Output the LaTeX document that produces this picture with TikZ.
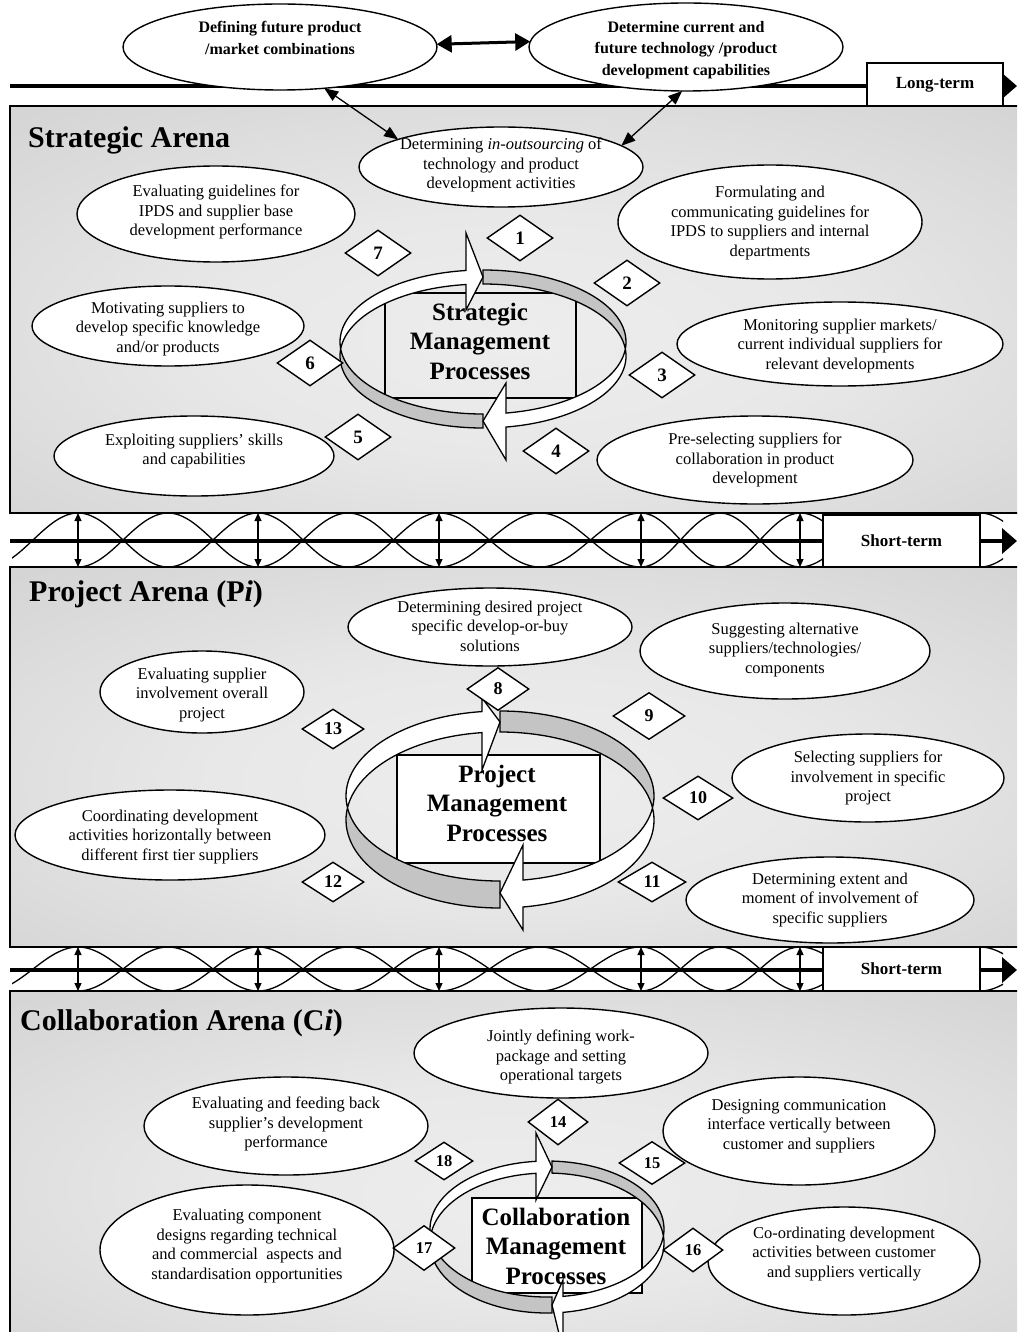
\documentclass[tikz,border=0pt]{standalone}
\usepackage{fontspec}
\setmainfont{Liberation Serif}
\usetikzlibrary{shapes.geometric,arrows.meta,calc}

% soft light spot in the middle of each arena
\pgfdeclareradialshading{arenaglow}{\pgfpoint{0bp}{-4bp}}{%
  color(0bp)=(black!7); color(15bp)=(black!9); color(40bp)=(black!18);
  color(55bp)=(black!21); color(75bp)=(black!22)}

\tikzset{
  arena/.style={draw=black, line width=1.4pt, shading=arenaglow},
  ell/.style={ellipse, draw=black, line width=1.4pt, fill=white, inner sep=0pt, outer sep=0pt},
  etxt/.style={align=center, inner sep=0pt, font=\fontsize{16.5}{19.5}\selectfont},
  etxtb/.style={align=center, inner sep=0pt, font=\fontsize{16}{21.5}\selectfont\bfseries},
  numd/.style={diamond, draw=black, line width=1.4pt, fill=white, inner sep=0pt,
    minimum width=66pt, minimum height=46pt, font=\fontsize{19}{19}\selectfont\bfseries},
  numds/.style={numd, minimum width=62pt, minimum height=43pt, font=\fontsize{18}{18}\selectfont\bfseries},
  numdc/.style={numds, font=\fontsize{16.5}{16.5}\selectfont\bfseries},
  title/.style={anchor=base west, inner sep=0pt, font=\fontsize{30}{35}\selectfont\bfseries},
  procbox/.style={draw=black, line width=1.4pt, inner sep=0pt},
  proctxt/.style={align=center, inner sep=0pt, font=\fontsize{25}{29.5}\selectfont\bfseries},
  termbox/.style={draw=black, line width=1.2pt, fill=white, inner sep=0pt,
    font=\fontsize{17}{17}\selectfont\bfseries},
  timeline/.style={line width=4pt, -{Triangle[length=15pt,width=25pt]}},
  wave/.style={line width=1.3pt},
  link/.style={line width=1.2pt, {Triangle[length=8pt,width=7pt]}-{Triangle[length=8pt,width=7pt]}},
  slant/.style={line width=1.3pt, {Triangle[length=14pt,width=11pt]}-{Triangle[length=14pt,width=11pt]}},
  heavy/.style={line width=3pt, {Triangle[length=15pt,width=17pt]}-{Triangle[length=15pt,width=17pt]}},
  ringline/.style={line width=1.3pt, line join=miter},
  ringshade/.style={fill=black!23},
  ru/.style={x radius=\rrx, y radius=\rru},
  rl/.style={x radius=\rrx, y radius=\rrl},
}

% ellipse with its text: [text style]{name}{cx}{cy}{rx}{ry}{text y}{text}
\newcommand\ellnode[8][etxt]{%
  \node[ell, minimum width=2*#5pt, minimum height=2*#6pt] (#2) at (#3,#4) {};
  \node[#1] (#2-t) at (#3,#7) {#8};}

% ribbon ring made of two elliptic rims and two arrow heads
\newcommand\ringgeom[6]{\def\rcx{#1}\def\rcu{#2}\def\rru{#3}\def\rcl{#4}\def\rrl{#5}\def\rrx{#6}}
\newcommand\tophead[5]{\def\tbx{#1}\def\tbt{#2}\def\tbb{#3}\def\ttx{#4}\def\tty{#5}}
\newcommand\bothead[5]{\def\bbx{#1}\def\bbt{#2}\def\bbb{#3}\def\btx{#4}\def\bty{#5}}
\newcommand\rimU[1]{($(\rcx,\rcu)+(#1:{\rrx} and {\rru})$)}
\newcommand\rimL[1]{($(\rcx,\rcl)+(#1:{\rrx} and {\rrl})$)}
\newcommand\drawring{%
  \pgfmathsetmacro\aTa{360-acos((\tbx-\rcx)/\rrx)}%
  \pgfmathsetmacro\aTg{360-acos((\ttx-\rcx)/\rrx)}%
  \pgfmathsetmacro\aBa{acos((\bbx-\rcx)/\rrx)}%
  \pgfmathsetmacro\aBg{acos((\btx-\rcx)/\rrx)}%
  \pgfmathsetmacro\aBaX{\aBa+360}%
  \fill[ringshade] \rimU{\aTg} arc[ru,start angle=\aTg,end angle=360]
    -- \rimL{0} arc[rl,start angle=360,end angle=\aTg] -- cycle;
  \fill[ringshade] \rimU{\aBg} arc[ru,start angle=\aBg,end angle=180]
    -- \rimL{180} arc[rl,start angle=180,end angle=\aBg] -- cycle;
  \fill[white] \rimU{180} arc[ru,start angle=180,end angle=\aTa]
    -- (\tbx,\tbt) -- (\ttx,\tty) -- (\tbx,\tbb)
    -- \rimL{\aTa} arc[rl,start angle=\aTa,end angle=180] -- cycle;
  \fill[white] \rimU{0} arc[ru,start angle=0,end angle=\aBa]
    -- (\bbx,\bbt) -- (\btx,\bty) -- (\bbx,\bbb)
    -- \rimL{\aBa} arc[rl,start angle=\aBa,end angle=0] -- cycle;
  \draw[ringline] \rimU{\aTg} arc[ru,start angle=\aTg,end angle=\aBaX]
    -- (\bbx,\bbt) -- (\btx,\bty) -- (\bbx,\bbb)
    -- \rimL{\aBa} arc[rl,start angle=\aBaX,end angle=\aTg] -- cycle;
  \draw[ringline] \rimU{\aBg} arc[ru,start angle=\aBg,end angle=\aTa]
    -- (\tbx,\tbt) -- (\ttx,\tty) -- (\tbx,\tbb)
    -- \rimL{\aTa} arc[rl,start angle=\aTa,end angle=\aBg] -- cycle;
}

% two crossing waves and the vertical links of a short-term band
\newcommand\bandwaves[2]{%
  \begin{scope}
    \clip (12,#1-3) rectangle (1003,#2+3);
    \draw[wave] (-12,#2)
      \foreach \xa/\xb/\ya/\yb in {-12/78/#2/#1,78/168/#1/#2,168/258/#2/#1,258/348/#1/#2,
        348/439/#2/#1,439/540/#1/#2,540/641/#2/#1,641/720/#1/#2,720/800/#2/#1,
        800/890/#1/#2,890/980/#2/#1,980/1070/#1/#2}
      { .. controls ({\xa+0.3634*(\xb-\xa)},\ya) and ({\xb-0.3634*(\xb-\xa)},\yb) .. (\xb,\yb) };
    \draw[wave] (78,#2)
      \foreach \xa/\xb/\ya/\yb in {78/168/#2/#1,168/258/#1/#2,258/348/#2/#1,348/439/#1/#2,
        439/540/#2/#1,540/641/#1/#2,641/720/#2/#1,720/800/#1/#2,800/890/#2/#1,
        890/980/#1/#2,980/1070/#2/#1}
      { .. controls ({\xa+0.3634*(\xb-\xa)},\ya) and ({\xb-0.3634*(\xb-\xa)},\yb) .. (\xb,\yb) };
  \end{scope}
  \foreach \x in {78,258,439,641,800} \draw[link] (\x,#1) -- (\x,#2);
}

\begin{document}
\begin{tikzpicture}[x=1pt,y=-1pt]
\useasboundingbox (0,0) rectangle (1017,1332);
\clip (0,0) rectangle (1017,1332);
\fill[white] (0,0) rectangle (1017,1332);

% ---------- arenas ----------
\shade[arena] (10,106) rectangle (1030,513);
\shade[arena] (10,567) rectangle (1030,947);
\shade[arena] (10,991) rectangle (1030,1345);

\node[title] (tS) at (28,148) {Strategic Arena};
\node[title] (tP) at (29,601) {Project Arena (P\textit{i})};
\node[title] (tC) at (20,1030) {Collaboration Arena (C\textit{i})};

% ---------- time lines ----------
\bandwaves{513}{567}
\bandwaves{947}{991}
\draw[timeline] (10,541) -- (1017,541);
\draw[timeline] (10,970) -- (1017,970);
\node[termbox, minimum width=157pt, minimum height=52pt] (st1) at (901.5,541) {Short-term};
\node[termbox, minimum width=157pt, minimum height=44pt] (st2) at (901.5,969) {Short-term};

% ---------- long-term level ----------
\draw[timeline] (10,86) -- (1017,86);
\node[termbox, minimum width=136pt, minimum height=43pt] (lt) at (935,84.5) {Long-term};
\ellnode[etxtb]{eA}{280}{47}{157}{43}{38}{Defining future product\\/market combinations}
\ellnode[etxtb]{eB}{686}{47}{157}{44}{50}{Determine current and\\future technology /product\\development capabilities}
\draw[heavy] (eA.1.5) -- (eB.178.5);

% ---------- strategic arena ----------
\ellnode{eC}{501}{167}{142}{40}{165}{Determining \textit{in-outsourcing} of\\technology and product\\development activities}
\draw[slant] (eA.-43.6) -- (eC.165);
\draw[slant] (eB.-95) -- (eC.10);
\ellnode{eS7}{216}{214}{139}{48}{212}{Evaluating guidelines for\\IPDS and supplier base\\development performance}
\ellnode{eS2}{770}{222}{152}{57}{223}{Formulating and\\communicating guidelines for\\IPDS to suppliers and internal\\departments}
\ellnode{eS6}{168}{326}{136}{40}{329}{Motivating suppliers to\\develop specific knowledge\\and/or products}
\ellnode{eS3}{840}{344}{163}{42}{346}{Monitoring supplier markets/\\current individual suppliers for\\relevant developments}
\ellnode{eS5}{194}{456}{140}{40}{451}{Exploiting suppliers’ skills\\and capabilities}
\ellnode{eS4}{755}{460}{158}{44}{460}{Pre-selecting suppliers for\\collaboration in product\\development}

\node[procbox, minimum width=191pt, minimum height=105pt] (sbox) at (480.5,345.5) {};
\node[proctxt] (sbox-t) at (480,341) {Strategic\\Management\\Processes};
\ringgeom{483}{342}{72}{356}{72}{143}
\tophead{466}{233}{310}{483}{277}
\bothead{506}{383}{460}{483}{421}
\drawring

\node[numd] (d1) at (520,238) {1};
\node[numd] (d2) at (627,283) {2};
\node[numd] (d3) at (662,375) {3};
\node[numd] (d4) at (556,451) {4};
\node[numd] (d5) at (358,437) {5};
\node[numd] (d6) at (310,363) {6};
\node[numd] (d7) at (378,253) {7};

% ---------- project arena ----------
\ellnode{eP8}{490}{627}{142}{39}{626}{Determining desired project\\specific develop-or-buy\\solutions}
\ellnode{eP9}{785}{651}{145}{48}{650}{Suggesting alternative\\suppliers/technologies/\\components}
\ellnode{eP13}{202}{692}{102}{41}{695}{Evaluating supplier\\involvement overall\\project}
\ellnode{eP10}{868}{778}{136}{44}{778}{Selecting suppliers for\\involvement in specific\\project}
\ellnode{eP12}{170}{835}{155}{45}{837}{Coordinating development\\activities horizontally between\\different first tier suppliers}
\ellnode{eP11}{830}{900}{144}{43}{900}{Determining extent and\\moment of involvement of\\specific suppliers}

\node[procbox, fill=white, minimum width=203pt, minimum height=108pt] (pbox) at (498.5,809) {};
\node[proctxt] (pbox-t) at (497,803) {Project\\Management\\Processes};
\ringgeom{500}{796}{85}{820}{88}{154}
\tophead{482}{698}{770}{500}{722}
\bothead{523}{845}{930}{500}{893}
\drawring

\node[numds] (d8) at (498,689) {8};
\node[numds, minimum width=72pt, minimum height=47pt] (d9) at (649,716) {9};
\node[numds, minimum width=70pt, minimum height=44pt] (d10) at (698,798) {10};
\node[numds, minimum width=68pt, minimum height=40pt] (d11) at (652,882) {11};
\node[numds, minimum height=40pt] (d12) at (333,882) {12};
\node[numds, minimum height=40pt] (d13) at (333,729) {13};

% ---------- collaboration arena ----------
\ellnode{eC14}{561}{1053}{147}{45}{1057}{Jointly defining work-\\package and setting\\operational targets}
\ellnode{eC18}{286}{1126}{142}{49}{1124}{Evaluating and feeding back\\supplier's development\\performance}
\ellnode{eC15}{799}{1131}{136}{54}{1126}{Designing communication\\interface vertically between\\customer and suppliers}
\ellnode{eC17}{247}{1250}{147}{65}{1246}{Evaluating component\\designs regarding technical\\and commercial\ \ aspects and\\standardisation opportunities}
\ellnode{eC16}{844}{1261}{136}{54}{1254}{Co-ordinating development\\activities between customer\\and suppliers vertically}

\node[procbox, fill=white, minimum width=170pt, minimum height=95pt] (cbox) at (557,1245.5) {};
\node[proctxt] (cbox-t) at (556,1246) {Collaboration\\Management\\Processes};
\ringgeom{547}{1229}{68}{1243}{70}{117}
\tophead{536}{1133}{1200}{552}{1167}
\bothead{563}{1280}{1350}{552}{1305}
\drawring

\node[numdc, minimum width=60pt, minimum height=46pt] (d14) at (558,1122) {14};
\node[numdc, minimum width=66pt, minimum height=43pt] (d15) at (652,1163) {15};
\node[numdc, minimum width=60pt, minimum height=44pt] (d16) at (693,1250) {16};
\node[numdc, minimum width=62pt, minimum height=45pt] (d17) at (424,1248) {17};
\node[numdc, minimum width=58pt, minimum height=38pt] (d18) at (444,1161) {18};
\end{tikzpicture}
\end{document}
